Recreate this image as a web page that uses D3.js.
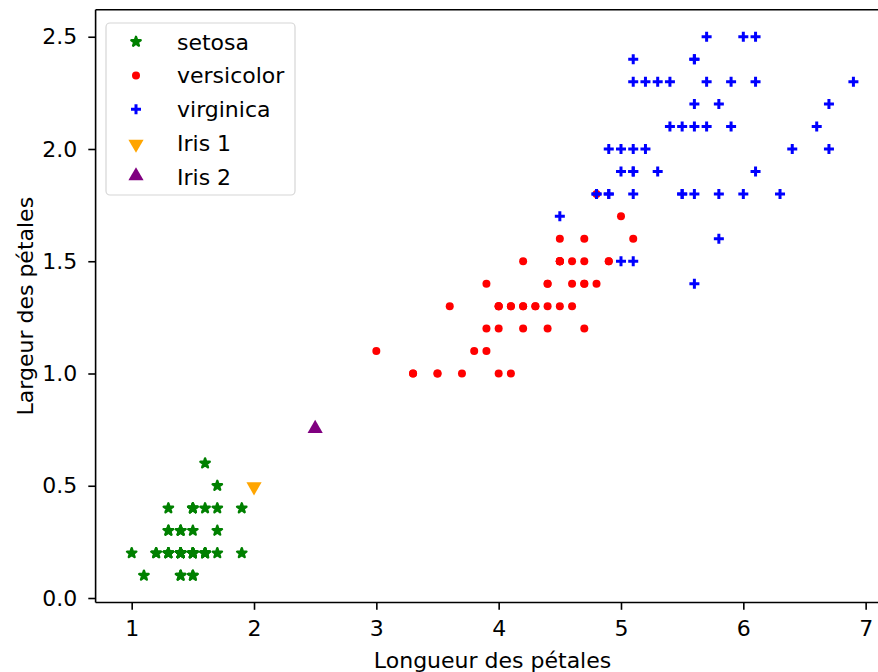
<!DOCTYPE html>
<html>
<head>
<meta charset="utf-8">
<script src="https://cdn.jsdelivr.net/npm/d3@7"></script>
<style>
  body { margin: 0; background: #fff; }
  text { font-family: "DejaVu Sans", sans-serif; }
</style>
</head>
<body>
<div id="chart"></div>
<script>
// iris petal length / width, one list per species
var setosaLen = [1.4,1.4,1.3,1.5,1.4,1.7,1.4,1.5,1.4,1.5,1.5,1.6,1.4,1.1,1.2,1.5,1.3,1.4,1.7,1.5,1.7,1.5,1.0,1.7,1.9,1.6,1.6,1.5,1.4,1.6,1.6,1.5,1.5,1.4,1.5,1.2,1.3,1.4,1.3,1.5,1.3,1.3,1.3,1.6,1.9,1.4,1.6,1.4,1.5,1.4];
var setosaWid = [0.2,0.2,0.2,0.2,0.2,0.4,0.3,0.2,0.2,0.1,0.2,0.2,0.1,0.1,0.2,0.4,0.4,0.3,0.3,0.3,0.2,0.4,0.2,0.5,0.2,0.2,0.4,0.2,0.2,0.2,0.2,0.4,0.1,0.2,0.2,0.2,0.2,0.1,0.2,0.2,0.3,0.3,0.2,0.6,0.4,0.3,0.2,0.2,0.2,0.2];
var versiLen = [4.7,4.5,4.9,4.0,4.6,4.5,4.7,3.3,4.6,3.9,3.5,4.2,4.0,4.7,3.6,4.4,4.5,4.1,4.5,3.9,4.8,4.0,4.9,4.7,4.3,4.4,4.8,5.0,4.5,3.5,3.8,3.7,3.9,5.1,4.5,4.5,4.7,4.4,4.1,4.0,4.4,4.6,4.0,3.3,4.2,4.2,4.2,4.3,3.0,4.1];
var versiWid = [1.4,1.5,1.5,1.3,1.5,1.3,1.6,1.0,1.3,1.4,1.0,1.5,1.0,1.4,1.3,1.4,1.5,1.0,1.5,1.1,1.8,1.3,1.5,1.2,1.3,1.4,1.4,1.7,1.5,1.0,1.1,1.0,1.2,1.6,1.5,1.6,1.5,1.3,1.3,1.3,1.2,1.4,1.2,1.0,1.3,1.2,1.3,1.3,1.1,1.3];
var virgLen = [6.0,5.1,5.9,5.6,5.8,6.6,4.5,6.3,5.8,6.1,5.1,5.3,5.5,5.0,5.1,5.3,5.5,6.7,6.9,5.0,5.7,4.9,6.7,4.9,5.7,6.0,4.8,4.9,5.6,5.8,6.1,6.4,5.6,5.1,5.6,6.1,5.6,5.5,4.8,5.4,5.6,5.1,5.1,5.9,5.7,5.2,5.0,5.2,5.4,5.1];
var virgWid = [2.5,1.9,2.1,1.8,2.2,2.1,1.7,1.8,1.8,2.5,2.0,1.9,2.1,2.0,2.4,2.3,1.8,2.2,2.3,1.5,2.3,2.0,2.0,1.8,2.1,1.8,1.8,1.8,2.1,1.6,1.9,2.0,2.2,1.5,1.4,2.3,2.4,1.8,1.8,2.1,2.4,2.3,1.9,2.3,2.5,2.3,1.9,2.0,2.3,1.8];
// the two extra flowers
var iris1 = [2.0, 0.5];
var iris2 = [2.5, 0.75];

var xTicks = [1, 2, 3, 4, 5, 6, 7];
var yTicks = [0.0, 0.5, 1.0, 1.5, 2.0, 2.5];
var legendLabels = ["setosa", "versicolor", "virginica", "Iris 1", "Iris 2"];

var width = 878, height = 672;
var fontSize = 22;

var svg = d3.select("#chart").append("svg")
  .attr("width", width)
  .attr("height", height);

// matplotlib style auto limits: data range plus 5% each side
var allX = setosaLen.concat(versiLen, virgLen, [iris1[0], iris2[0]]);
var allY = setosaWid.concat(versiWid, virgWid, [iris1[1], iris2[1]]);
var xe = d3.extent(allX), ye = d3.extent(allY);
var xm = (xe[1] - xe[0]) * 0.05, ym = (ye[1] - ye[0]) * 0.05;

var x = d3.scaleLinear().domain([xe[0] - xm, xe[1] + xm]).range([95.6, 889.5]);
var y = d3.scaleLinear().domain([ye[0] - ym, ye[1] + ym]).range([602.5, 9.8]);

// frame (spines)
var frame = svg.append("g");
frame.append("line").attr("x1", x.range()[0]).attr("x2", x.range()[1])
  .attr("y1", y.range()[1]).attr("y2", y.range()[1]);
frame.append("line").attr("x1", x.range()[0]).attr("x2", x.range()[1])
  .attr("y1", y.range()[0]).attr("y2", y.range()[0]);
frame.append("line").attr("x1", x.range()[0]).attr("x2", x.range()[0])
  .attr("y1", y.range()[0]).attr("y2", y.range()[1]);
frame.selectAll("line").attr("stroke", "#000").attr("stroke-width", 1.6);

// axes
function styleAxis(g) {
  g.select(".domain").remove();
  g.selectAll(".tick line").attr("stroke", "#000").attr("stroke-width", 1.6);
  g.selectAll(".tick text").attr("fill", "#000")
    .attr("font-size", fontSize).attr("font-family", "DejaVu Sans");
}

svg.append("g")
  .attr("transform", "translate(0," + y.range()[0] + ")")
  .call(d3.axisBottom(x).tickValues(xTicks).tickFormat(d3.format("d")).tickSize(7.3).tickPadding(11))
  .call(styleAxis);

svg.append("g")
  .attr("transform", "translate(" + x.range()[0] + ",0)")
  .call(d3.axisLeft(y).tickValues(yTicks).tickFormat(d3.format(".1f")).tickSize(7.3).tickPadding(11))
  .call(styleAxis);

// axis labels
svg.append("text")
  .attr("x", (x.range()[0] + x.range()[1]) / 2)
  .attr("y", 668)
  .attr("text-anchor", "middle")
  .attr("font-size", fontSize)
  .text("Longueur des pétales");

svg.append("text")
  .attr("transform", "translate(33," + (y.range()[0] + y.range()[1]) / 2 + ") rotate(-90)")
  .attr("text-anchor", "middle")
  .attr("font-size", fontSize)
  .text("Largeur des pétales");

// marker drawers
var star = d3.symbol().type(d3.symbolStar).size(27);
var tri = d3.symbol().type(d3.symbolTriangle).size(100);

function drawStar(g, cx, cy) {
  g.append("path").attr("d", star()).attr("transform", "translate(" + cx + "," + cy + ")")
    .attr("fill", "green").attr("stroke", "green").attr("stroke-width", 2.4)
    .attr("stroke-linejoin", "round");
}
function drawDot(g, cx, cy) {
  g.append("circle").attr("cx", cx).attr("cy", cy).attr("r", 4).attr("fill", "red");
}
function drawPlus(g, cx, cy) {
  g.append("path").attr("d", "M" + (cx - 5) + "," + cy + "h10M" + cx + "," + (cy - 5) + "v10")
    .attr("stroke", "blue").attr("stroke-width", 3).attr("fill", "none");
}
function drawDown(g, cx, cy) {
  g.append("path").attr("d", tri()).attr("transform", "translate(" + cx + "," + (cy + 1) + ") rotate(180)")
    .attr("fill", "orange");
}
function drawUp(g, cx, cy) {
  g.append("path").attr("d", tri()).attr("transform", "translate(" + cx + "," + (cy - 1) + ")")
    .attr("fill", "purple");
}

var plot = svg.append("g");
setosaLen.forEach(function (d, i) { drawStar(plot, x(d), y(setosaWid[i])); });
versiLen.forEach(function (d, i) { drawDot(plot, x(d), y(versiWid[i])); });
virgLen.forEach(function (d, i) { drawPlus(plot, x(d), y(virgWid[i])); });
drawDown(plot, x(iris1[0]), y(iris1[1]));
drawUp(plot, x(iris2[0]), y(iris2[1]));

// legend
var leg = svg.append("g");
leg.append("rect")
  .attr("x", 106).attr("y", 23).attr("width", 189).attr("height", 172)
  .attr("rx", 4).attr("fill", "#fff").attr("fill-opacity", 0.8)
  .attr("stroke", "#d6d6d6").attr("stroke-width", 1.2);

var drawers = [drawStar, drawDot, drawPlus, drawDown, drawUp];
legendLabels.forEach(function (lab, i) {
  var cy = 41.7 + i * 33.8;
  drawers[i](leg, 136, cy);
  leg.append("text")
    .attr("x", 177).attr("y", cy).attr("dy", "0.36em")
    .attr("font-size", fontSize).attr("fill", "#000")
    .text(lab);
});
</script>
</body>
</html>
